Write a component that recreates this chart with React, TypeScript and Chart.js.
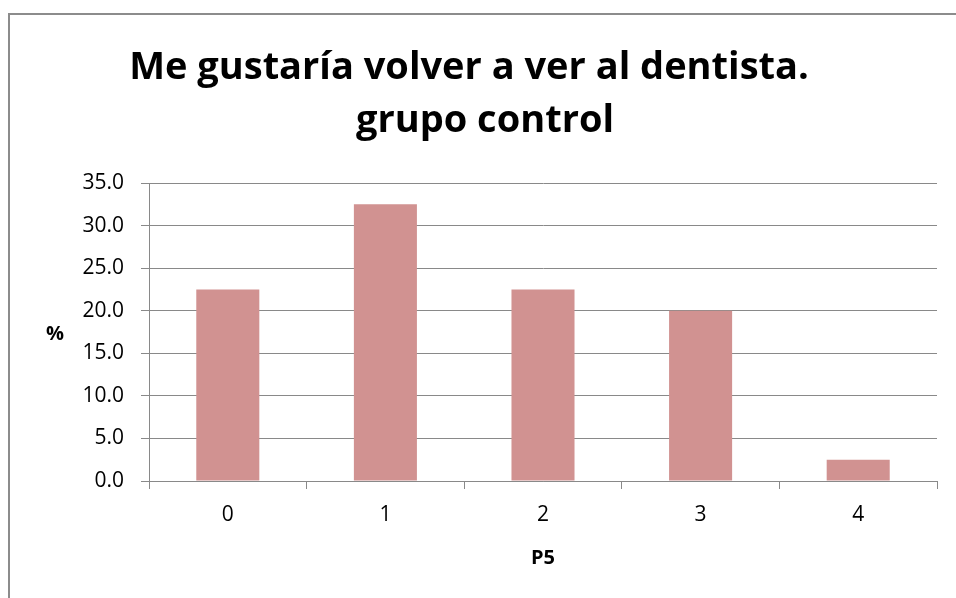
import React, { useEffect, useRef } from "react";
import { Chart, registerables } from "chart.js";

Chart.register(...registerables);

const categories = ["0", "1", "2", "3", "4"];
const values = [22.5, 32.5, 22.5, 20.0, 2.5];
const titleLines = ["Me gustaría volver a ver al dentista.", "grupo control"];
const yTitle = "%";
const xTitle = "P5";

const FONT = "'Open Sans', 'DejaVu Sans', sans-serif";
const GRID = "#898989";

const overlay = {
  id: "overlay",
  afterDraw(chart: any) {
    const ctx = chart.ctx;
    ctx.save();
    // outer frame
    ctx.strokeStyle = "#8c8c8c";
    ctx.lineWidth = 2;
    ctx.beginPath();
    ctx.moveTo(9, 2000);
    ctx.lineTo(9, 14);
    ctx.lineTo(2000, 14);
    ctx.stroke();
    ctx.fillStyle = "#000";
    ctx.textAlign = "center";
    ctx.textBaseline = "alphabetic";
    ctx.font = `bold 38px ${FONT}`;
    ctx.fillText(titleLines[0], 469, 79);
    ctx.fillText(titleLines[1], 485, 132);
    ctx.textBaseline = "middle";
    ctx.font = `bold 20px ${FONT}`;
    ctx.fillText(yTitle, 55, 334);
    ctx.fillText(xTitle, 543, 558);
    ctx.restore();
  },
};

export default function App() {
  const ref = useRef<HTMLCanvasElement>(null);
  useEffect(() => {
    const chart = new Chart(ref.current!, {
      type: "bar",
      data: {
        labels: categories,
        datasets: [
          {
            data: values,
            backgroundColor: "rgb(209,146,145)",
            borderWidth: 0,
            barPercentage: 0.4,
            categoryPercentage: 1.0,
          },
        ],
      },
      options: {
        responsive: false,
        animation: false,
        devicePixelRatio: 1,
        layout: { padding: { top: 183, left: 0, right: 19, bottom: 0 } },
        plugins: { legend: { display: false }, title: { display: false }, tooltip: { enabled: false } },
        scales: {
          x: {
            afterFit(scale: any) {
              scale.height = 117;
            },
            grid: {
              offset: true,
              drawOnChartArea: false,
              drawTicks: true,
              tickLength: 8,
              color: GRID,
            },
            border: { display: true, color: GRID, width: 1 },
            ticks: { color: "#000", font: { family: FONT, size: 21 }, padding: 13, maxRotation: 0 },
          },
          y: {
            min: 0,
            max: 35,
            afterFit(scale: any) {
              scale.width = 149;
            },
            grid: { color: GRID, drawTicks: true, tickLength: 8 },
            border: { display: true, color: GRID, width: 1 },
            ticks: {
              stepSize: 5,
              color: "#000",
              font: { family: FONT, size: 21 },
              padding: 17,
              callback: (v: any) => Number(v).toFixed(1),
            },
          },
        },
      },
      plugins: [overlay],
    });
    return () => chart.destroy();
  }, []);
  return (
    <div style={{ position: "absolute", left: 0, top: 0, width: 956, height: 598, background: "#fff" }}>
      <canvas ref={ref} width={956} height={598} style={{ display: "block" }} />
    </div>
  );
}
